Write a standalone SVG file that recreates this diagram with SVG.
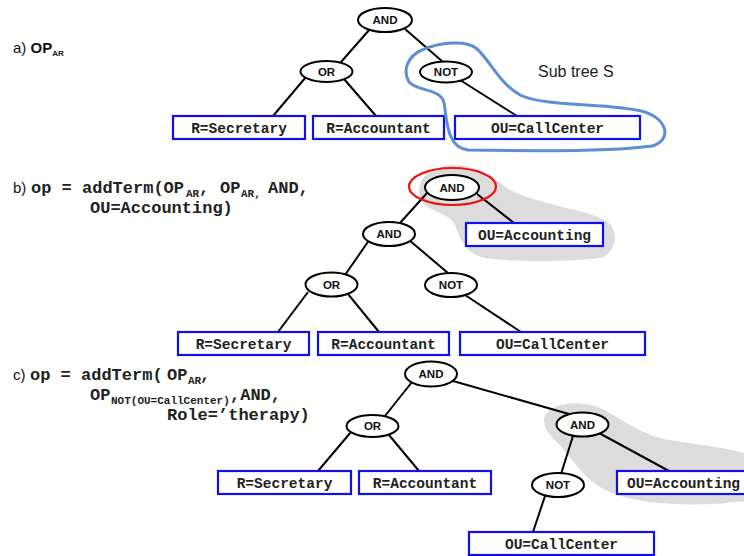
<svg xmlns="http://www.w3.org/2000/svg" width="744" height="556" viewBox="0 0 744 556">
<style>
.op ellipse{fill:#fff;stroke:#000;stroke-width:2}
.op text{font-family:"Liberation Sans",Arial,sans-serif;font-size:11.5px;font-weight:bold;text-anchor:middle;fill:#111}
.box rect{fill:#fff;stroke:#1010ee;stroke-width:2.2}
.box text{font-family:"Liberation Mono","Courier New",monospace;font-size:14.5px;font-weight:bold;text-anchor:middle;fill:#222}
.conn line{stroke:#000;stroke-width:2}
.lbl{font-family:"Liberation Sans",Arial,sans-serif;font-size:15px;fill:#111}
.code{font-family:"Liberation Mono","Courier New",monospace;font-size:17px;font-weight:bold;fill:#222}
.sub{font-family:"Liberation Mono","Courier New",monospace;font-size:11px;font-weight:bold;fill:#222}
.blob{fill:#dcdcdc;stroke:none}
</style>

<!-- highlight regions -->
<path class="blob" d="M 420,198 C 415,180 430,166 452,165 C 480,164 495,180 510,190 C 540,205 590,210 608,222 C 620,232 615,255 600,258 C 570,262 510,262 485,258 C 465,254 460,238 455,225 C 450,212 425,212 420,198 Z"/>
<path class="blob" d="M 544,420 C 545,405 575,398 600,408 C 625,420 640,435 670,440 C 700,445 730,448 750,455 L 750,500 C 720,505 680,506 650,502 C 620,498 600,490 588,478 C 575,465 565,450 555,440 C 548,433 544,428 544,420 Z"/>

<!-- labels -->
<text class="lbl" x="13" y="53">a) <tspan font-weight="bold">OP</tspan><tspan font-size="8" font-weight="bold" dy="3">AR</tspan></text>
<text class="lbl" x="13" y="193">b)</text>
<text class="code" x="31" y="193">op = addTerm(OP</text>
<text class="sub" x="186" y="197">AR</text>
<text class="code" x="199" y="193">,</text>
<text class="code" x="220" y="193">OP</text>
<text class="sub" x="241" y="197">AR,</text>
<text class="code" x="268" y="193">AND,</text>
<text class="code" x="90" y="213">OU=Accounting)</text>

<text class="lbl" x="13" y="380">c)</text>
<text class="code" x="30" y="380">op = addTerm(</text>
<text class="code" x="167" y="380">OP</text>
<text class="sub" x="188" y="384">AR</text>
<text class="code" x="200" y="380">,</text>
<text class="code" x="90" y="400">OP</text>
<text class="sub" x="111" y="404">NOT(OU=CallCenter)</text>
<text class="code" x="230" y="400">,AND,</text>
<text class="code" x="167" y="420">Role=’therapy)</text>

<text x="538" y="77" font-family="Liberation Sans, Arial, sans-serif" font-size="16" fill="#222">Sub tree S</text>

<!-- connectors -->
<g id="connectors" class="conn">
  <line x1="370" y1="29" x2="341" y2="62"/>
  <line x1="306" y1="77" x2="273" y2="116"/>
  <line x1="344" y1="79" x2="376" y2="116"/>
  <line x1="405" y1="29" x2="443" y2="62"/>
  <line x1="460" y1="80" x2="517" y2="116"/>

  <line x1="427" y1="193" x2="400" y2="223"/>
  <line x1="477" y1="194" x2="514" y2="223"/>
  <line x1="409" y1="240" x2="448" y2="273"/>
  <line x1="465" y1="295" x2="521" y2="332"/>
  <line x1="372" y1="236" x2="345" y2="275"/>
  <line x1="308" y1="292" x2="278" y2="332"/>
  <line x1="348" y1="294" x2="379" y2="332"/>

  <line x1="412" y1="382" x2="385" y2="416"/>
  <line x1="453" y1="381" x2="569" y2="414"/>
  <line x1="351" y1="432" x2="318" y2="471"/>
  <line x1="389" y1="435" x2="419" y2="471"/>
  <line x1="573" y1="436" x2="561" y2="474"/>
  <line x1="599" y1="433" x2="669" y2="471"/>
  <line x1="545" y1="496" x2="533" y2="532"/>
</g>

<!-- a -->
<g id="a-and" class="op"><ellipse cx="385" cy="20" rx="27" ry="12"/><text x="385" y="24">AND</text></g>
<g id="a-or" class="op"><ellipse cx="326.5" cy="71.5" rx="26" ry="10.5"/><text x="326.5" y="75.5">OR</text></g>
<g id="a-not" class="op"><ellipse cx="446" cy="72" rx="26" ry="10.5"/><text x="446" y="76">NOT</text></g>
<g id="a-sec" class="box"><rect x="173" y="116" width="132" height="23"/><text x="239" y="133">R=Secretary</text></g>
<g id="a-acc" class="box"><rect x="313" y="116" width="131" height="23"/><text x="378.5" y="133">R=Accountant</text></g>
<g id="a-cc" class="box"><rect x="455" y="116" width="185" height="23"/><text x="547.5" y="133">OU=CallCenter</text></g>

<!-- b -->
<g id="b-and" class="op"><ellipse cx="452" cy="187.5" rx="27" ry="12.5"/><text x="452" y="191.5">AND</text></g>
<g id="b-ouacc" class="box"><rect x="466" y="223" width="137" height="23"/><text x="534.5" y="240">OU=Accounting</text></g>
<g id="b-and2" class="op"><ellipse cx="389" cy="234" rx="26" ry="12"/><text x="389" y="238">AND</text></g>
<g id="b-or" class="op"><ellipse cx="331.5" cy="284.5" rx="26" ry="12"/><text x="331.5" y="288.5">OR</text></g>
<g id="b-not" class="op"><ellipse cx="451" cy="285" rx="26" ry="12"/><text x="451" y="289">NOT</text></g>
<g id="b-sec" class="box"><rect x="178" y="332" width="131" height="23"/><text x="243.5" y="349">R=Secretary</text></g>
<g id="b-acc" class="box"><rect x="318" y="332" width="131" height="23"/><text x="383.5" y="349">R=Accountant</text></g>
<g id="b-cc" class="box"><rect x="460" y="332" width="185" height="23"/><text x="552.5" y="349">OU=CallCenter</text></g>

<!-- c -->
<g id="c-and" class="op"><ellipse cx="431" cy="374" rx="26" ry="12.5"/><text x="431" y="378">AND</text></g>
<g id="c-or" class="op"><ellipse cx="372.5" cy="426" rx="26" ry="11"/><text x="372.5" y="430">OR</text></g>
<g id="c-and2" class="op"><ellipse cx="582.5" cy="424.5" rx="26" ry="12"/><text x="582.5" y="428.5">AND</text></g>
<g id="c-not" class="op"><ellipse cx="558" cy="485" rx="26" ry="12"/><text x="558" y="489">NOT</text></g>
<g id="c-sec" class="box"><rect x="218" y="471" width="133" height="23"/><text x="284.5" y="488">R=Secretary</text></g>
<g id="c-acc" class="box"><rect x="359" y="471" width="132" height="23"/><text x="425" y="488">R=Accountant</text></g>
<g id="c-ouacc" class="box"><rect x="617" y="471" width="132" height="23"/><text x="683.5" y="488">OU=Accounting</text></g>
<g id="c-cc" class="box"><rect x="469" y="532" width="185" height="23"/><text x="561.5" y="549">OU=CallCenter</text></g>

<!-- outlines -->
<path d="M 422,50 C 440,42 465,40 476,48 C 490,60 498,82 520,95 C 548,108 610,102 645,112 C 668,120 672,140 652,146 C 610,152 520,151 468,150 C 446,148 447,118 444,103 C 441,88 418,92 409,82 C 402,70 408,56 422,50 Z" fill="none" stroke="#5b8fd4" stroke-width="3"/>
<ellipse cx="452.5" cy="186.5" rx="43.5" ry="18.5" fill="none" stroke="#ee1111" stroke-width="2.2"/>
</svg>
